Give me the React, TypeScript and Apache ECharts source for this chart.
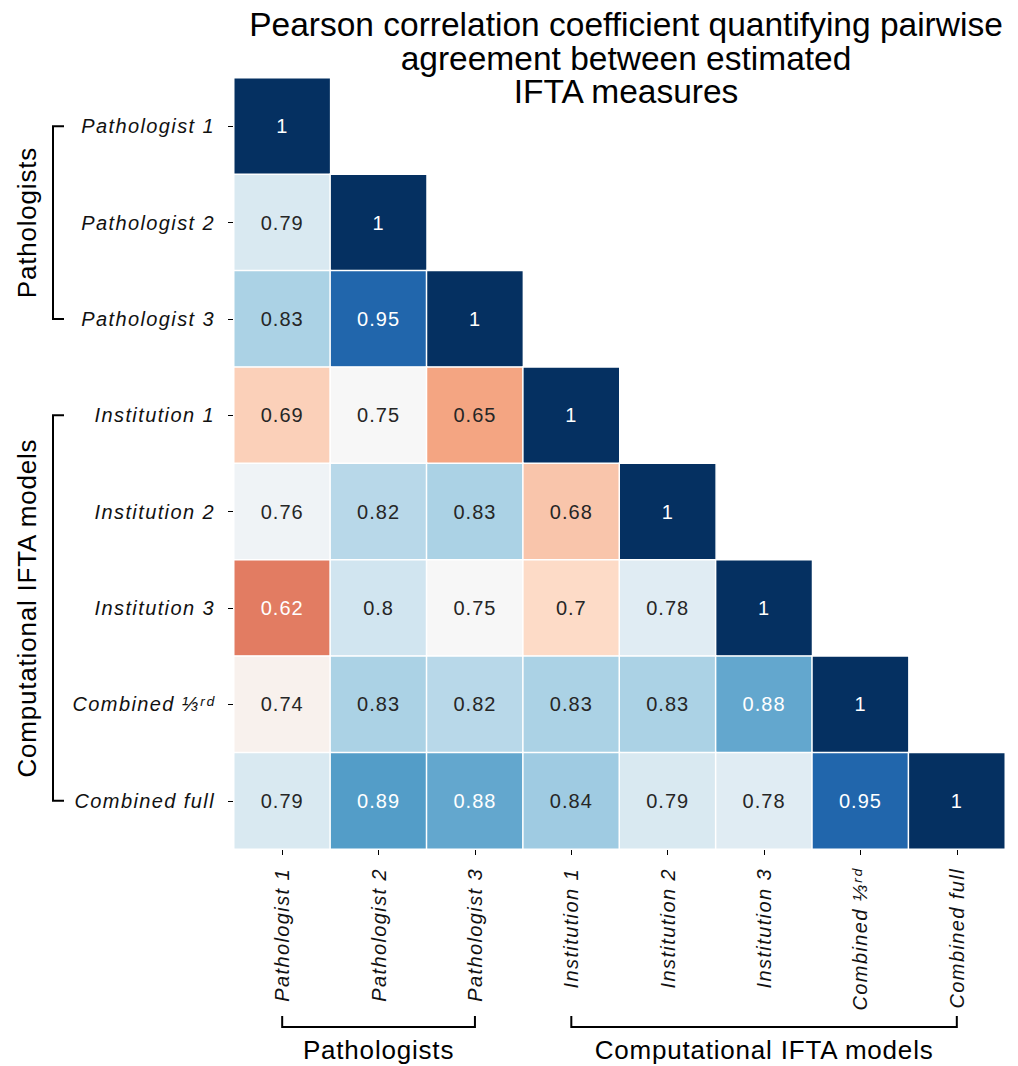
import React, { useEffect, useRef } from "react";
import * as echarts from "echarts";

// Measures compared pairwise (same order on both axes)
const measures = [
  "Pathologist 1",
  "Pathologist 2",
  "Pathologist 3",
  "Institution 1",
  "Institution 2",
  "Institution 3",
  "Combined ⅓ʳᵈ",
  "Combined full",
];

// Lower-triangle Pearson r, one row per measure (columns 0..row)
const rowPathologist1 = [1];
const rowPathologist2 = [0.79, 1];
const rowPathologist3 = [0.83, 0.95, 1];
const rowInstitution1 = [0.69, 0.75, 0.65, 1];
const rowInstitution2 = [0.76, 0.82, 0.83, 0.68, 1];
const rowInstitution3 = [0.62, 0.8, 0.75, 0.7, 0.78, 1];
const rowCombinedThird = [0.74, 0.83, 0.82, 0.83, 0.83, 0.88, 1];
const rowCombinedFull = [0.79, 0.89, 0.88, 0.84, 0.79, 0.78, 0.95, 1];

const rows = [
  rowPathologist1,
  rowPathologist2,
  rowPathologist3,
  rowInstitution1,
  rowInstitution2,
  rowInstitution3,
  rowCombinedThird,
  rowCombinedFull,
];

// Measure groups, as index ranges into `measures`
const groupNames = ["Pathologists", "Computational IFTA models"];
const groupStart = [0, 3];
const groupEnd = [2, 7];

// Diverging red-blue colour scale
const colorMin = 0.5;
const colorMax = 1;
const rdBu = [
  "#67001f",
  "#b2182b",
  "#d6604d",
  "#f4a582",
  "#fddbc7",
  "#f7f7f7",
  "#d1e5f0",
  "#92c5de",
  "#4393c3",
  "#2166ac",
  "#053061",
];

const FONT = "'Liberation Sans', Arial, Helvetica, sans-serif";
const TICK_FILL = "#111111";
const DARK_FILL = "#262626";
const LIGHT_FILL = "#ffffff";
const GROUP_FILL = "#000000";
const TITLE_FILL = "#010101";

function hexToRgb(h: string): number[] {
  const n = parseInt(h.slice(1), 16);
  return [(n >> 16) & 255, (n >> 8) & 255, n & 255];
}

function scaleColor(v: number): number[] {
  let t = (v - colorMin) / (colorMax - colorMin);
  t = Math.max(0, Math.min(1, t));
  const pos = t * (rdBu.length - 1);
  const i = Math.min(rdBu.length - 2, Math.floor(pos));
  const f = pos - i;
  const a = hexToRgb(rdBu[i]);
  const b = hexToRgb(rdBu[i + 1]);
  return a.map((c, k) => c + (b[k] - c) * f);
}

// Dark annotation on light cells, white on dark ones
function annotationColor(v: number): string {
  const lin = scaleColor(v).map((c) => {
    const s = c / 255;
    return s <= 0.03928 ? s / 12.92 : Math.pow((s + 0.055) / 1.055, 2.4);
  });
  const lum = 0.2126 * lin[0] + 0.7152 * lin[1] + 0.0722 * lin[2];
  return lum > 0.408 ? DARK_FILL : LIGHT_FILL;
}

export default function App() {
  const ref = useRef<HTMLDivElement>(null);

  useEffect(() => {
    if (!ref.current) return;
    const chart = echarts.init(ref.current, undefined, { renderer: "svg" });

    const cells: any[] = [];
    rows.forEach((vals, r) => {
      vals.forEach((v, c) => {
        cells.push({
          value: [c, r, v],
          label: { color: annotationColor(v) },
        });
      });
    });

    const axisCommon = {
      type: "category" as const,
      data: measures,
      axisLine: { show: false },
      axisTick: {
        show: true,
        alignWithLabel: true,
        length: 6,
        lineStyle: { color: "#000", width: 1 },
      },
      splitLine: { show: false },
      axisLabel: {
        fontFamily: FONT,
        fontStyle: "italic" as const,
        fontSize: 20,
        color: TICK_FILL,
        margin: 19,
      },
    };

    chart.setOption({
      animation: false,
      title: {
        text:
          "Pearson correlation coefficient quantifying pairwise\nagreement between estimated\nIFTA measures",
        left: 626,
        top: 8,
        padding: 0,
        textAlign: "center",
        textStyle: {
          fontFamily: FONT,
          fontSize: 33.5,
          fontWeight: "normal",
          lineHeight: 33.5,
          color: TITLE_FILL,
        },
      },
      grid: { left: 234, top: 78, width: 771, height: 771 },
      xAxis: {
        ...axisCommon,
        position: "bottom",
        axisLabel: { ...axisCommon.axisLabel, rotate: 90 },
      },
      yAxis: { ...axisCommon, inverse: true },
      visualMap: {
        type: "continuous",
        show: false,
        min: colorMin,
        max: colorMax,
        dimension: 2,
        inRange: { color: rdBu },
      },
      series: [
        {
          type: "heatmap",
          data: cells,
          itemStyle: { borderColor: "#ffffff", borderWidth: 1.5 },
          emphasis: { disabled: true },
          label: {
            show: true,
            fontFamily: FONT,
            fontSize: 20,
            formatter: (p: any) => String(p.value[2]),
          },
        },
      ],
    });

    // Group brackets and group names, placed from the axis scales
    const xAt = (i: number) => chart.convertToPixel({ xAxisIndex: 0 }, i) as number;
    const yAt = (i: number) => chart.convertToPixel({ yAxisIndex: 0 }, i) as number;
    const graphics: any[] = [];
    const bracketX = 53;
    const bracketY = 1027;
    const serif = 11;
    groupNames.forEach((name, g) => {
      const y0 = yAt(groupStart[g]);
      const y1 = yAt(groupEnd[g]);
      const x0 = xAt(groupStart[g]);
      const x1 = xAt(groupEnd[g]);
      graphics.push({
        type: "polyline",
        shape: {
          points: [
            [bracketX + serif, y0],
            [bracketX, y0],
            [bracketX, y1],
            [bracketX + serif, y1],
          ],
        },
        style: { stroke: "#000", lineWidth: 2, fill: "none" },
        silent: true,
      });
      graphics.push({
        type: "polyline",
        shape: {
          points: [
            [x0, bracketY - serif],
            [x0, bracketY],
            [x1, bracketY],
            [x1, bracketY - serif],
          ],
        },
        style: { stroke: "#000", lineWidth: 2, fill: "none" },
        silent: true,
      });
      graphics.push({
        type: "text",
        x: 27,
        y: (y0 + y1) / 2,
        rotation: Math.PI / 2,
        style: {
          text: name,
          fill: GROUP_FILL,
          font: `26px ${FONT}`,
          align: "center",
          verticalAlign: "middle",
          textAlign: "center",
          textVerticalAlign: "middle",
        },
        silent: true,
      });
      graphics.push({
        type: "text",
        x: (x0 + x1) / 2,
        y: 1050,
        style: {
          text: name,
          fill: GROUP_FILL,
          font: `26px ${FONT}`,
          align: "center",
          verticalAlign: "middle",
          textAlign: "center",
          textVerticalAlign: "middle",
        },
        silent: true,
      });
    });
    chart.setOption({ graphic: graphics });

    return () => chart.dispose();
  }, []);

  return (
    <>
      <style>{`
        .corr-chart text[fill="${TICK_FILL}"] { letter-spacing: 1.4px; }
        .corr-chart text[fill="${DARK_FILL}"], .corr-chart text[fill="${LIGHT_FILL}"] { letter-spacing: 1px; }
        .corr-chart text[fill="${GROUP_FILL}"] { letter-spacing: 0.8px; }
      `}</style>
      <div
        ref={ref}
        className="corr-chart"
        style={{ position: "absolute", left: 0, top: 0, width: 1018, height: 1066 }}
      />
    </>
  );
}
